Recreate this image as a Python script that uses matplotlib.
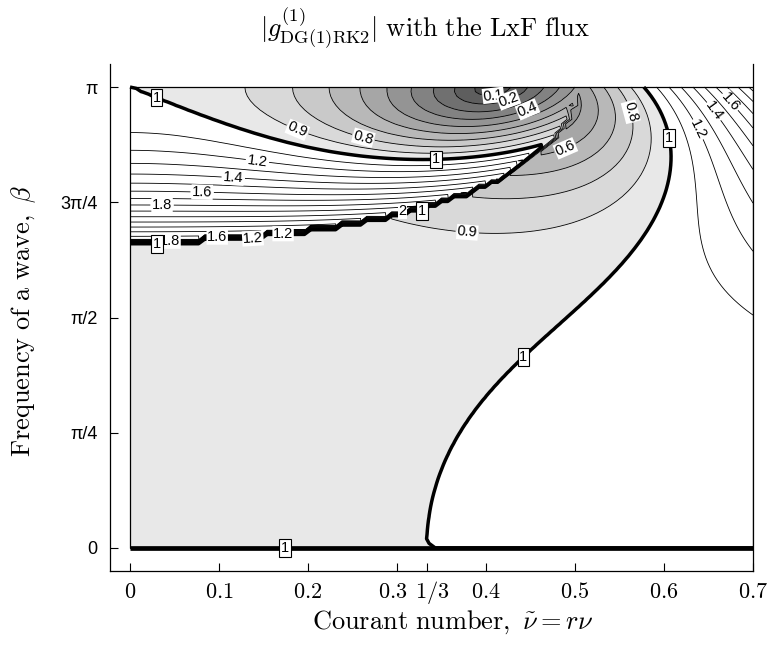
"""
|g^(1)| of DG(1) + RK2 for linear advection with the Lax-Friedrichs flux
(alpha = dx/dt), as a contour map over Courant number and wave frequency.
"""
import numpy as np
import matplotlib
matplotlib.use("Agg")
import matplotlib.pyplot as plt
from matplotlib.patches import Rectangle
from matplotlib.transforms import ScaledTranslation

# ---- analysis grid ----
nu = np.linspace(0.0, 0.7, 101)
beta = np.linspace(0.0, np.pi, 101)

# ---- contour / fill levels ----
fill_levels = [0.0, 0.1, 0.2, 0.3, 0.4, 0.5, 0.6, 0.7, 0.8, 0.9, 1.0, 100.0]
fill_grays = [0.30, 0.37, 0.44, 0.51, 0.58, 0.65, 0.72, 0.79, 0.85, 0.91]
line_levels = [0.1, 0.2, 0.3, 0.4, 0.5, 0.6, 0.7, 0.8, 0.9,
               1.1, 1.2, 1.3, 1.4, 1.5, 1.6, 1.7, 1.8, 1.9, 2.0,
               2.1, 2.2, 2.3, 2.4, 2.5, 2.6, 2.7, 2.8, 2.9, 3.0]

# label spots (nu, beta/pi)
thin_labels = {
    0.1: [(0.408, 0.983)],
    0.2: [(0.425, 0.974)],
    0.4: [(0.447, 0.950)],
    0.6: [(0.489, 0.868)],
    0.8: [(0.262, 0.889), (0.562, 0.946)],
    0.9: [(0.188, 0.907), (0.379, 0.685)],
    1.2: [(0.143, 0.837), (0.138, 0.683), (0.172, 0.679), (0.637, 0.907)],
    1.4: [(0.116, 0.803), (0.655, 0.946)],
    1.6: [(0.081, 0.770), (0.098, 0.670), (0.674, 0.967)],
    1.8: [(0.036, 0.742), (0.045, 0.670)],
    2.0: [(0.298, 0.727)],
}
one_labels = [(0.030, 0.978), (0.344, 0.846), (0.328, 0.733),
              (0.030, 0.668), (0.442, 0.414), (0.604, 0.889)]
bottom_one_label = (0.174, 0.0)

x_ticks = [0.0, 0.1, 0.2, 0.3, 1 / 3, 0.4, 0.5, 0.6, 0.7]
x_ticklabels = ["0", "0.1", "0.2", "0.3", "1/3", "0.4", "0.5", "0.6", "0.7"]
y_ticks = [0.0, np.pi / 4, np.pi / 2, 3 * np.pi / 4, np.pi]
y_ticklabels = ["0", "\u03c0/4", "\u03c0/2", "3\u03c0/4", "\u03c0"]


def amplification(nu, beta):
    """first eigenvalue (LAPACK order) of the RK2 amplification matrix"""
    N, B = np.meshgrid(nu, beta)
    c, s = np.cos(B), np.sin(B)
    L00 = -((1 - c) + 1j * N * s)
    L01 = -(N * (1 - c) + 1j * s)
    L10 = 3 * N * (1 - c) + 3j * s
    L11 = -3 * ((1 + c) - 1j * N * s)
    G00 = 1 + L00 + 0.5 * (L00 * L00 + L01 * L10)
    G01 = L01 + 0.5 * (L00 * L01 + L01 * L11)
    G10 = L10 + 0.5 * (L10 * L00 + L11 * L10)
    G11 = 1 + L11 + 0.5 * (L10 * L01 + L11 * L11)
    m = 0.5 * (G00 + G11)
    d = np.sqrt(0.25 * (G00 - G11) ** 2 + G01 * G10)
    ga, gb = m + d, m - d
    # QR with a Wilkinson shift deflates the eigenvalue nearest G11 last,
    # so the first one returned is the other
    g1 = np.where(np.abs(ga - G11) >= np.abs(gb - G11), ga, gb)
    return N, B, np.round(np.abs(g1), 10)


plt.rcParams["font.family"] = ["Liberation Sans", "DejaVu Sans"]
plt.rcParams["mathtext.fontset"] = "cm"

N, B, mag = amplification(nu, beta)

fig = plt.figure(figsize=(7.71, 6.47), dpi=100)
ax = fig.add_axes([110 / 771, 1 - 571 / 647, 643 / 771, 507 / 647])

colors = [str(g) for g in fill_grays] + ["white"]
ax.contourf(N, B, mag, levels=fill_levels, colors=colors, zorder=1)

# unlabelled levels in one set, each labelled level in its own set
plain = [lev for lev in line_levels if lev not in thin_labels]
ax.contour(N, B, mag, levels=plain, colors="black", linewidths=0.6, zorder=2)
for lev, pts in thin_labels.items():
    c = ax.contour(N, B, mag, levels=[lev], colors="black", linewidths=0.6,
                   zorder=2)
    c.clabel(manual=[(x, b * np.pi) for x, b in pts], inline=True,
             inline_spacing=2, fmt="%g", fontsize=10.5)

cs1 = ax.contour(N, B, mag, levels=[1.0], colors="black",
                 linewidths=2.5, zorder=2.2)
cs1.clabel(manual=[(x, b * np.pi) for x, b in one_labels],
           inline=True, inline_spacing=1, fmt="%g", fontsize=10.5)
ax.plot(nu, np.full_like(nu, beta[0]), color="black", lw=3.4, zorder=2.2,
        solid_capstyle="butt")
ax.text(bottom_one_label[0], bottom_one_label[1] * np.pi, "1",
        ha="center", va="center", fontsize=10.5, zorder=5)
ax.add_patch(Rectangle((nu[0], beta[0]), nu[-1] - nu[0], beta[-1] - beta[0],
                       fill=False, ec="black", lw=0.9, zorder=2.5))

for t in ax.texts:
    t.set_fontfamily(["Liberation Sans", "DejaVu Sans"])
    if t.get_text() == "1":
        t.set_rotation(0)
        t.set_bbox(dict(boxstyle="square,pad=0.12", fc="white", ec="black",
                        lw=0.8))
    else:
        t.set_bbox(dict(boxstyle="square,pad=0.04", fc="white", ec="none"))

ax.set_xlim(-0.0225, 0.7)
ax.set_ylim(-0.05 * np.pi, 1.05 * np.pi)
ax.spines["top"].set_visible(False)
for sp in ("left", "bottom", "right"):
    ax.spines[sp].set_linewidth(0.9)

ax.set_xticks(x_ticks)
ax.set_xticklabels(["$%s$" % s for s in x_ticklabels], fontsize=16)
ax.set_yticks(y_ticks)
ax.set_yticklabels(y_ticklabels, fontsize=13)
ax.tick_params(direction="in", length=6, width=0.8, right=False, top=False)
ax.tick_params(axis="x", pad=19.5)
ax.tick_params(axis="y", pad=9)
# baseline-align the x labels and pull "0.3" and "1/3" apart a little
for lbl, txt in zip(ax.get_xticklabels(), x_ticklabels):
    lbl.set_va("baseline")
    shift = {"0.3": -4, "1/3": 5}.get(txt, 0)
    if shift:
        lbl.set_transform(lbl.get_transform()
                          + ScaledTranslation(shift / 100, 0,
                                              fig.dpi_scale_trans))

ax.set_xlabel(r"$\mathrm{Courant\ number,}\ \tilde{\nu} = r\nu$", fontsize=19)
ax.xaxis.set_label_coords(0.533, -0.073)
ax.set_ylabel(r"$\mathrm{Frequency\ of\ a\ wave,}\ \beta$", fontsize=19)
ax.yaxis.set_label_coords(-0.112, 0.493)

fig.text(425 / 771, 1 - 28 / 647,
         r"$|g^{(1)}_{\mathrm{DG(1)RK2}}|\ \mathrm{with\ the\ LxF\ flux}$",
         ha="center", va="center", fontsize=19)

fig.savefig("out.png", dpi=100)
